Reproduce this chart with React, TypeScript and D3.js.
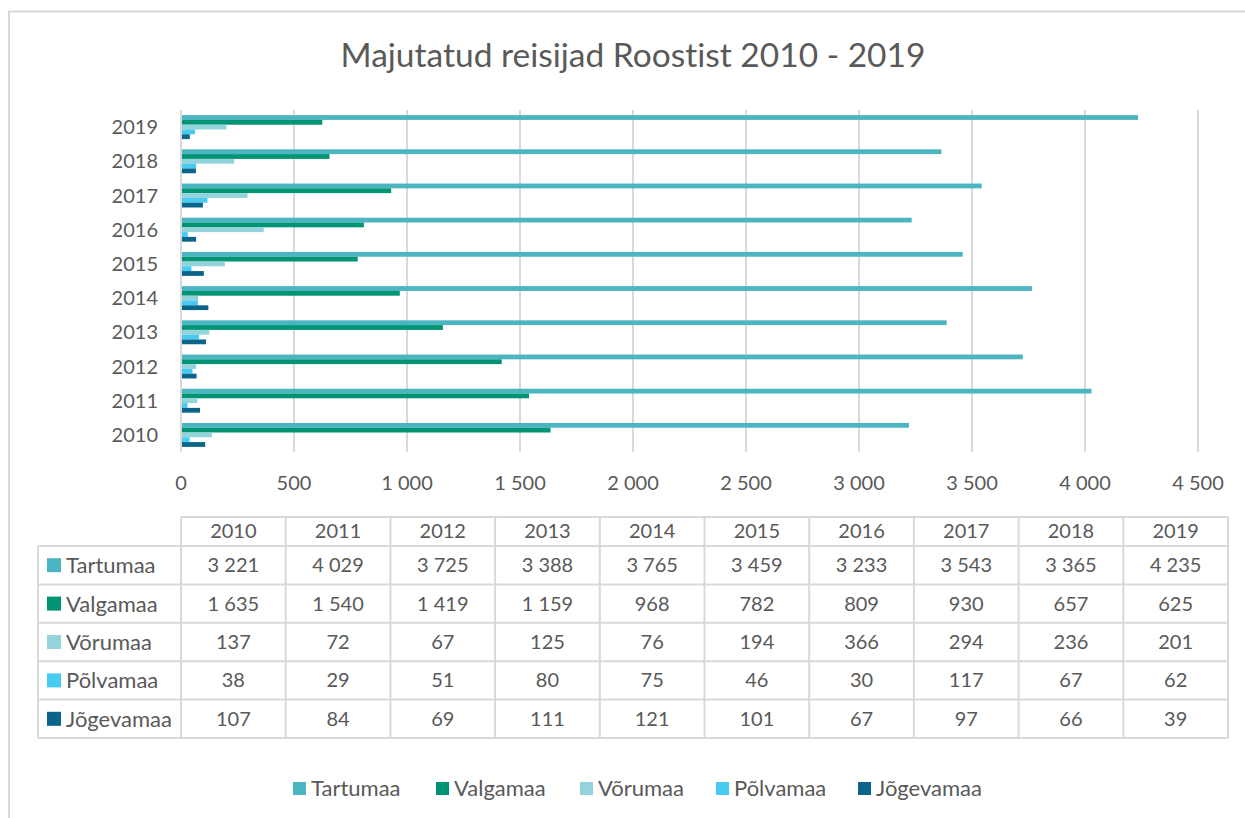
import { useEffect, useRef } from "react";
import * as d3 from "d3";

const years = [2010, 2011, 2012, 2013, 2014, 2015, 2016, 2017, 2018, 2019];
const seriesNames = ["Tartumaa", "Valgamaa", "Võrumaa", "Põlvamaa", "Jõgevamaa"];
const tartumaa = [3221, 4029, 3725, 3388, 3765, 3459, 3233, 3543, 3365, 4235];
const valgamaa = [1635, 1540, 1419, 1159, 968, 782, 809, 930, 657, 625];
const vorumaa = [137, 72, 67, 125, 76, 194, 366, 294, 236, 201];
const polvamaa = [38, 29, 51, 80, 75, 46, 30, 117, 67, 62];
const jogevamaa = [107, 84, 69, 111, 121, 101, 67, 97, 66, 39];
const xTicks = [0, 500, 1000, 1500, 2000, 2500, 3000, 3500, 4000, 4500];
const colors = ["#4bb5c2", "#009474", "#93d4dc", "#48cbf1", "#0b6489"];

const FONT = "Lato, 'Open Sans', sans-serif";
const TEXT = "#595959";
const GRID = "#d9d9d9";

const App = () => {
  const svgRef = useRef(null);

  useEffect(() => {
    d3.select(svgRef.current).selectAll("*").remove();
    const width = 1245;
    const height = 818;
    const seriesValues = [tartumaa, valgamaa, vorumaa, polvamaa, jogevamaa];
    const fmt = d3.formatLocale({
      decimal: ",",
      thousands: " ",
      grouping: [3],
      currency: ["", ""],
    }).format(",d");

    const svg = d3
      .select(svgRef.current)
      .attr("width", width)
      .attr("height", height)
      .style("font-family", FONT)
      .style("font-variant-ligatures", "none");

    svg
      .append("rect")
      .attr("width", width)
      .attr("height", height)
      .attr("fill", "#fff");

    // outer chart border (cropped on the right and bottom)
    svg
      .append("rect")
      .attr("x", 9)
      .attr("y", 11.5)
      .attr("width", width + 10)
      .attr("height", height + 10)
      .attr("fill", "none")
      .attr("stroke", GRID)
      .attr("stroke-width", 2);

    svg
      .append("text")
      .attr("x", 633)
      .attr("y", 67)
      .attr("text-anchor", "middle")
      .attr("font-size", 33.5)
      .attr("fill", TEXT)
      .text("Majutatud reisijad Roostist 2010 - 2019");

    const xScale = d3.scaleLinear().domain([0, 4500]).range([181, 1198]);
    const yScale = d3
      .scaleBand()
      .domain(years.slice().reverse().map(String))
      .range([110, 452])
      .paddingInner(0.3)
      .paddingOuter(0.15);
    const inner = d3
      .scaleBand()
      .domain(seriesNames)
      .range([0, yScale.bandwidth()])
      .padding(0);

    // gridlines
    svg
      .append("g")
      .selectAll("line")
      .data(xTicks)
      .enter()
      .append("line")
      .attr("x1", (d) => xScale(d))
      .attr("x2", (d) => xScale(d))
      .attr("y1", 110)
      .attr("y2", 452)
      .attr("stroke", GRID)
      .attr("stroke-width", 2);

    svg
      .append("g")
      .selectAll("text")
      .data(xTicks)
      .enter()
      .append("text")
      .attr("x", (d) => xScale(d))
      .attr("y", 490)
      .attr("text-anchor", "middle")
      .attr("font-size", 20)
      .attr("fill", TEXT)
      .text((d) => fmt(d));

    svg
      .append("g")
      .selectAll("text")
      .data(years)
      .enter()
      .append("text")
      .attr("x", 158)
      .attr("y", (d) => yScale(String(d)) + yScale.bandwidth() / 2 + 7)
      .attr("text-anchor", "end")
      .attr("font-size", 20)
      .attr("fill", TEXT)
      .text((d) => d);

    // bars
    seriesNames.forEach((name, si) => {
      svg
        .append("g")
        .selectAll("rect")
        .data(seriesValues[si])
        .enter()
        .append("rect")
        .attr("x", xScale(0) + 1)
        .attr("y", (d, i) => yScale(String(years[i])) + inner(name))
        .attr("width", (d) => xScale(d) - xScale(0) - 1)
        .attr("height", inner.bandwidth())
        .attr("fill", colors[si]);
    });

    // data table
    const tableLeft = 38;
    const colX = d3.scaleBand().domain(years.map(String)).range([181, 1228]);
    const rowY = d3.scaleBand().domain(seriesNames).range([546, 738]);
    const headerTop = 517;
    const tbl = svg.append("g");

    // horizontal lines
    tbl
      .append("line")
      .attr("x1", 181)
      .attr("x2", 1228)
      .attr("y1", headerTop)
      .attr("y2", headerTop)
      .attr("stroke", GRID)
      .attr("stroke-width", 2);
    tbl
      .selectAll("line.h")
      .data([...seriesNames, "end"])
      .enter()
      .append("line")
      .attr("class", "h")
      .attr("x1", tableLeft)
      .attr("x2", 1228)
      .attr("y1", (d, i) => 546 + i * rowY.step())
      .attr("y2", (d, i) => 546 + i * rowY.step())
      .attr("stroke", GRID)
      .attr("stroke-width", 2);
    // vertical lines
    tbl
      .append("line")
      .attr("x1", tableLeft)
      .attr("x2", tableLeft)
      .attr("y1", 546)
      .attr("y2", 738)
      .attr("stroke", GRID)
      .attr("stroke-width", 2);
    tbl
      .selectAll("line.v")
      .data([...years, "end"])
      .enter()
      .append("line")
      .attr("class", "v")
      .attr("x1", (d, i) => 181 + i * colX.step())
      .attr("x2", (d, i) => 181 + i * colX.step())
      .attr("y1", headerTop)
      .attr("y2", 738)
      .attr("stroke", GRID)
      .attr("stroke-width", 2);

    tbl
      .selectAll("text.hdr")
      .data(years)
      .enter()
      .append("text")
      .attr("class", "hdr")
      .attr("x", (d) => colX(String(d)) + colX.bandwidth() / 2)
      .attr("y", 538)
      .attr("text-anchor", "middle")
      .attr("font-size", 20)
      .attr("fill", TEXT)
      .text((d) => d);

    seriesNames.forEach((name, si) => {
      const cy = rowY(name) + rowY.bandwidth() / 2;
      tbl
        .append("rect")
        .attr("x", 47)
        .attr("y", cy - 7)
        .attr("width", 14)
        .attr("height", 14)
        .attr("fill", colors[si]);
      tbl
        .append("text")
        .attr("x", 66)
        .attr("y", cy + 8)
        .attr("font-size", 22)
        .attr("fill", TEXT)
        .text(name);
      tbl
        .append("g")
        .selectAll("text")
        .data(seriesValues[si])
        .enter()
        .append("text")
        .attr("x", (d, i) => colX(String(years[i])) + colX.bandwidth() / 2)
        .attr("y", cy + 7)
        .attr("text-anchor", "middle")
        .attr("font-size", 20)
        .attr("fill", TEXT)
        .text((d) => fmt(d));
    });

    // legend
    const legendX = [293, 436, 580, 716, 858];
    const legend = svg
      .append("g")
      .selectAll("g")
      .data(seriesNames)
      .enter()
      .append("g")
      .attr("transform", (d, i) => `translate(${legendX[i]}, 788)`);
    legend
      .append("rect")
      .attr("x", 0)
      .attr("y", -6)
      .attr("width", 13)
      .attr("height", 13)
      .attr("fill", (d, i) => colors[i]);
    legend
      .append("text")
      .attr("x", 18)
      .attr("y", 8)
      .attr("font-size", 22)
      .attr("fill", TEXT)
      .text((d) => d);
  }, []);

  return (
    <div style={{ position: "absolute", left: 0, top: 0 }}>
      <svg ref={svgRef}></svg>
    </div>
  );
};

export default App;
